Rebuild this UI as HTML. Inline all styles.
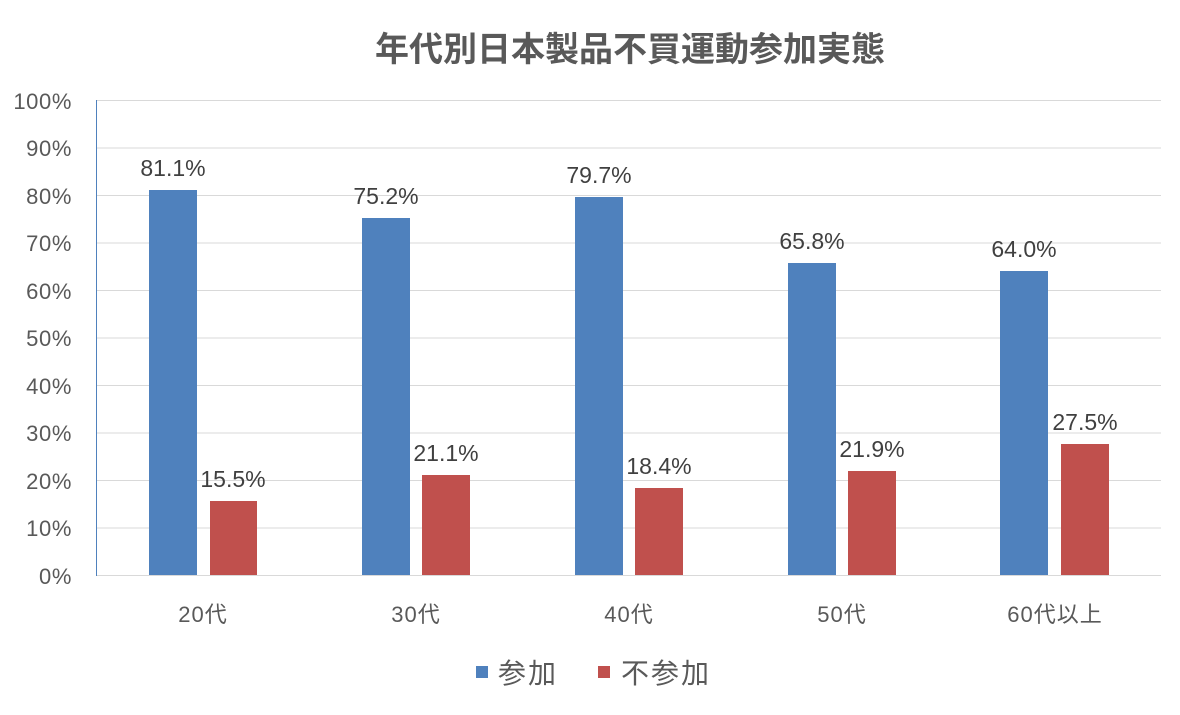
<!DOCTYPE html>
<html><head><meta charset="utf-8"><style>
html,body{margin:0;padding:0;background:#fff;}
text{font-family:"Liberation Sans","Noto Sans CJK JP",sans-serif;}
</style></head><body>
<svg width="1180" height="710" viewBox="0 0 1180 710" xmlns="http://www.w3.org/2000/svg">
<rect width="1180" height="710" fill="#fff"/>
<text x="630" y="61" text-anchor="middle" font-size="34" font-weight="bold" fill="#595959">年代別日本製品不買運動参加実態</text>
<g stroke="#d9d9d9" stroke-width="1">
<line x1="96" x2="1161" y1="100.5" y2="100.5"/>
<line x1="96" x2="1161" y1="148" y2="148"/>
<line x1="96" x2="1161" y1="195.5" y2="195.5"/>
<line x1="96" x2="1161" y1="243" y2="243"/>
<line x1="96" x2="1161" y1="290.5" y2="290.5"/>
<line x1="96" x2="1161" y1="338" y2="338"/>
<line x1="96" x2="1161" y1="385.5" y2="385.5"/>
<line x1="96" x2="1161" y1="433" y2="433"/>
<line x1="96" x2="1161" y1="480.5" y2="480.5"/>
<line x1="96" x2="1161" y1="528" y2="528"/>
<line x1="96" x2="1161" y1="575.5" y2="575.5"/>
</g>
<line x1="96.5" x2="96.5" y1="100" y2="576" stroke="#4f81bd" stroke-width="1"/>
<g font-size="22" fill="#595959" text-anchor="end" letter-spacing="0.6">
<text x="72" y="109">100%</text><text x="72" y="156">90%</text><text x="72" y="204">80%</text>
<text x="72" y="251">70%</text><text x="72" y="299">60%</text><text x="72" y="346">50%</text>
<text x="72" y="394">40%</text><text x="72" y="441">30%</text><text x="72" y="489">20%</text>
<text x="72" y="536">10%</text><text x="72" y="584">0%</text>
</g>
<g fill="#4f81bd">
<rect x="149" y="190" width="48" height="385"/>
<rect x="362" y="218" width="48" height="357"/>
<rect x="575" y="197" width="48" height="378"/>
<rect x="788" y="263" width="48" height="312"/>
<rect x="1000" y="271" width="48" height="304"/>
</g>
<g fill="#c0504d">
<rect x="210" y="501" width="47" height="74"/>
<rect x="422" y="475" width="48" height="100"/>
<rect x="635" y="488" width="48" height="87"/>
<rect x="848" y="471" width="48" height="104"/>
<rect x="1061" y="444" width="48" height="131"/>
</g>
<g font-size="23" fill="#404040" text-anchor="middle">
<text x="173" y="176">81.1%</text><text x="233" y="487">15.5%</text>
<text x="386" y="204">75.2%</text><text x="446" y="461">21.1%</text>
<text x="599" y="183">79.7%</text><text x="659" y="474">18.4%</text>
<text x="812" y="249">65.8%</text><text x="872" y="457">21.9%</text>
<text x="1024" y="257">64.0%</text><text x="1085" y="430">27.5%</text>
</g>
<g font-size="22" fill="#595959" text-anchor="middle" letter-spacing="1">
<text x="203" y="622">20代</text><text x="416" y="622">30代</text><text x="629" y="622">40代</text>
<text x="842" y="622">50代</text><text x="1055" y="622">60代以上</text>
</g>
<rect x="476" y="666" width="12" height="12" fill="#4f81bd"/>
<text x="498" y="683" font-size="28" fill="#595959" letter-spacing="2">参加</text>
<rect x="598" y="666" width="12" height="12" fill="#c0504d"/>
<text x="621" y="683" font-size="28" fill="#595959" letter-spacing="2">不参加</text>
</svg>
</body></html>
